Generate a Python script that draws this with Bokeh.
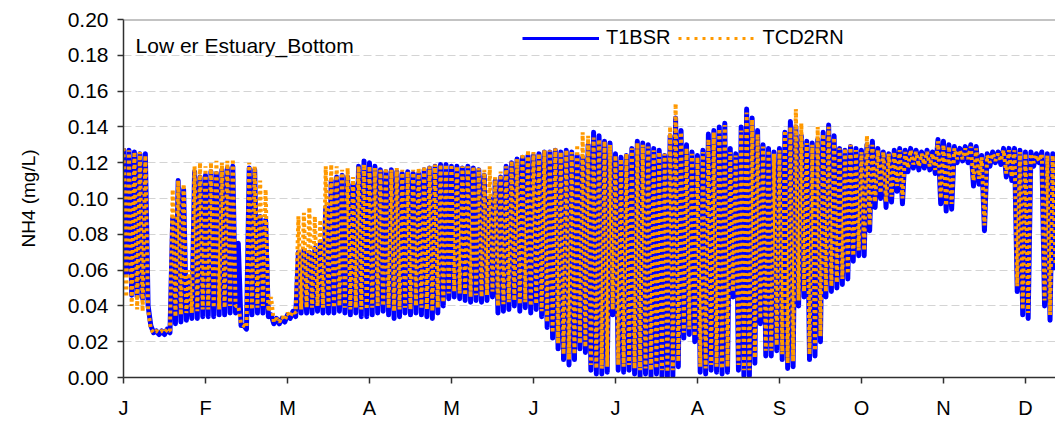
from bokeh.plotting import figure
from bokeh.models import FixedTicker, NumeralTickFormatter, Label, Legend, LegendItem, Range1d, Span
from bokeh.embed import file_html
from bokeh.resources import INLINE

# ---------------- data ----------------
month_labels = ["J", "F", "M", "A", "M", "J", "J", "A", "S", "O", "N", "D"]
month_ticks = [0, 30, 60, 90, 120, 150, 180, 210, 240, 270, 300, 330]
y_ticks = [0.00, 0.02, 0.04, 0.06, 0.08, 0.10, 0.12, 0.14, 0.16, 0.18, 0.20]
step_days = 2   # one tidal high + one tidal low every 2 days

t1bsr_high = [
    .128, .127, .126, .125, .125,
    .029, .026, .026, .027,
    .089, .110, .105,
    .055,
    .115, .112, .113, .115, .114, .116, .117, .118,
    .075, .029,
    .117, .116, .090, .088,
    .035, .033, .033, .035, .037,
    .070, .071, .070, .072, .075,
    .095, .110, .112, .113, .112, .108,
    .118, .121, .120, .118, .116, .115, .116, .115, .114, .115, .114, .114, .116, .117, .118, .119,
    .119, .118, .118, .117, .118, .117, .116, .113, .100,
    .110, .112, .118, .120, .122, .123, .124, .124, .125,
    .126, .126, .127, .126, .127, .126, .124, .123,
    .130, .137, .135, .132, .131, .125, .123, .124, .128, .132, .131, .130, .128, .127, .124,
    .135, .145, .138, .130, .126, .124, .127,
    .136, .138, .140, .142, .128, .125,
    .140, .150, .145, .138, .130, .128, .126, .128,
    .137, .143, .140, .135, .132, .131, .133,
    .137, .141, .135, .128, .127, .129, .128, .127,
    .130, .132, .128, .126, .125, .127, .128,
    .127, .128, .127, .126, .127, .126,
    .133, .132, .130, .129, .128, .129, .130, .129, .124,
    .125, .126, .126, .128, .128, .128, .127, .126, .126, .125, .126, .125, .125,
]
t1bsr_low = [
    .058, .046, .045, .044, .040,
    .025, .024, .024, .025,
    .030, .031, .032,
    .033,
    .033, .034, .034, .034, .035, .035, .036, .036,
    .029, .027,
    .035, .036, .036, .034,
    .030, .030, .031, .033, .034,
    .036, .036, .036, .037, .036,
    .036, .036, .037, .036, .035, .036,
    .034, .034, .035, .036, .037, .035, .033, .034, .036, .035, .036, .035, .034, .033, .036, .040,
    .044, .045, .044, .043, .042, .043, .042, .043, .045,
    .036, .037, .038, .040, .037, .039, .036, .038, .034,
    .028, .022, .016, .010, .007, .010, .016, .014,
    .004, .002, .002, .003, .035, .004, .003, .004, .002, .001, .002, .001, .002, .001, .000,
    .001, .006, .022, .024, .020, .003, .002,
    .004, .003, .002, .003, .045, .004,
    .001, .001, .008, .030, .012, .012, .015, .010,
    .005, .006, .040, .045, .010, .012, .020,
    .045, .048, .050, .052, .055, .065, .068, .068,
    .082, .095, .100, .095, .098, .104, .097,
    .115, .117, .116, .117, .116, .114,
    .097, .093, .094, .120, .121, .120, .107, .108, .082,
    .118, .120, .119, .112, .110, .048, .035, .033, .118, .120, .040, .032, .060,
]
tcd2rn_high = [
    .128, .127, .126, .126, .124,
    .027, .026, .026, .027,
    .105, .110, .108,
    .060,
    .118, .120, .118, .120, .121, .120, .121, .122,
    .040, .029,
    .120, .118, .110, .105,
    .045, .033, .034, .036, .037,
    .090, .092, .095, .090, .088,
    .118, .119, .118, .116, .117, .112,
    .118, .119, .118, .117, .116, .117, .116, .117, .116, .115, .116, .117, .118, .118, .119, .119,
    .119, .119, .118, .118, .118, .118, .117, .116, .118,
    .112, .115, .118, .121, .122, .125, .127, .126, .125,
    .127, .127, .128, .126, .127, .126, .130, .137,
    .135, .134, .133, .132, .130, .124, .122, .125, .128, .131, .130, .129, .127, .126, .125,
    .140, .153, .137, .128, .125, .123, .126,
    .133, .137, .139, .141, .126, .124,
    .138, .148, .144, .136, .129, .127, .125, .127,
    .138, .140, .150, .142, .131, .130, .140,
    .136, .140, .134, .128, .128, .130, .127, .126,
    .135, .130, .127, .126, .125, .126, .127,
    .126, .127, .126, .125, .126, .125,
    .132, .130, .129, .128, .127, .128, .129, .128, .123,
    .124, .125, .125, .127, .127, .127, .126, .125, .125, .124, .125, .124, .124,
]
tcd2rn_low = [
    .045, .040, .038, .037, .038,
    .025, .025, .025, .026,
    .034, .035, .036,
    .036,
    .037, .038, .038, .039, .038, .039, .040, .040,
    .030, .028,
    .038, .039, .040, .037,
    .031, .031, .032, .034, .036,
    .038, .039, .039, .040, .039,
    .040, .039, .040, .039, .038, .039,
    .038, .038, .039, .040, .040, .039, .037, .038, .039, .038, .040, .039, .038, .037, .039, .042,
    .047, .048, .047, .046, .045, .046, .045, .046, .048,
    .040, .041, .042, .043, .041, .042, .040, .041, .037,
    .031, .025, .019, .013, .010, .013, .019, .017,
    .007, .005, .005, .006, .038, .007, .006, .007, .005, .004, .005, .004, .005, .004, .003,
    .004, .009, .025, .027, .023, .006, .005,
    .007, .006, .005, .006, .048, .007,
    .004, .004, .011, .033, .015, .015, .018, .013,
    .008, .009, .043, .048, .013, .015, .023,
    .048, .051, .053, .055, .058, .068, .071, .071,
    .085, .098, .103, .098, .101, .107, .100,
    .117, .119, .118, .119, .118, .116,
    .100, .096, .097, .122, .122, .122, .110, .111, .085,
    .120, .121, .121, .114, .112, .051, .038, .036, .120, .121, .043, .035, .063,
]
for arr in (t1bsr_high, t1bsr_low, tcd2rn_high, tcd2rn_low):
    assert len(arr) == 171, len(arr)


def tidal_trace(high, low):
    xs, ys = [], []
    for k, (h, l) in enumerate(zip(high, low)):
        xs += [k * step_days, k * step_days + 1]
        ys += [h, l]
    return xs, ys


FONT = "Liberation Sans"
BLUE = "#0000ff"
ORANGE = "#ff9900"

p = figure(width=1055, height=421, x_range=Range1d(0, 341), y_range=Range1d(0, 0.2),
           output_backend="svg", toolbar_location=None,
           min_border_left=123, min_border_right=0, min_border_top=19, min_border_bottom=44)

bx, by = tidal_trace(t1bsr_high, t1bsr_low)
ox, oy = tidal_trace(tcd2rn_high, tcd2rn_low)
p.line(bx, by, line_color=BLUE, line_width=5, line_join="round")
p.line(ox, oy, line_color=ORANGE, line_width=4, line_dash="3 3")

# legend proxies (one invisible NaN point each, styled like the legend samples)
lg1 = p.line([0], [float("nan")], line_color=BLUE, line_width=3)
lg2 = p.line([0], [float("nan")], line_color=ORANGE, line_width=3, line_dash="3 5")

# axes
p.xaxis.ticker = FixedTicker(ticks=month_ticks)
p.xaxis.major_label_overrides = {t: lab for t, lab in zip(month_ticks, month_labels)}
p.yaxis.ticker = FixedTicker(ticks=y_ticks)
p.yaxis.formatter = NumeralTickFormatter(format="0.00")
for ax in (p.xaxis[0], p.yaxis[0]):
    ax.axis_line_color = "#303030"
    ax.axis_line_width = 1.5
    ax.major_tick_line_color = "#303030"
    ax.major_tick_line_width = 1.5
    ax.major_tick_out = 6
    ax.major_tick_in = 0
    ax.minor_tick_line_color = None
    ax.major_label_text_font = FONT
    ax.major_label_text_color = "#000000"
p.xaxis.major_label_text_font_size = "20px"
p.yaxis.major_label_text_font_size = "21px"
p.xaxis.major_label_standoff = 13
p.yaxis.major_label_standoff = 9
p.yaxis.axis_label = "NH4 (mg/L)"
p.yaxis.axis_label_text_font = FONT
p.yaxis.axis_label_text_font_size = "19px"
p.yaxis.axis_label_text_font_style = "normal"
p.yaxis.axis_label_text_color = "#000000"
p.yaxis.axis_label_standoff = 26

p.xgrid.visible = False
p.ygrid.ticker = FixedTicker(ticks=y_ticks)
p.ygrid.grid_line_color = "#d4d4d4"
p.ygrid.grid_line_dash = "8 4"
p.ygrid.grid_line_width = 1

p.outline_line_color = None
p.add_layout(Span(location=0.2, dimension="width", line_color="#888888", line_width=2))
p.background_fill_color = "white"
p.border_fill_color = "white"

p.add_layout(Label(x=4.4, y=0.1855, text="Low er Estuary_Bottom", text_font=FONT,
                   text_font_size="21px", text_baseline="alphabetic", text_color="#000000"))

legend = Legend(items=[LegendItem(label="T1BSR", renderers=[lg1]),
                       LegendItem(label="TCD2RN", renderers=[lg2])],
                orientation="horizontal", location=(399, 328),
                glyph_width=77, glyph_height=20, label_height=20,
                label_standoff=7, spacing=8, padding=0, margin=0,
                label_text_font=FONT, label_text_font_size="20px", label_text_color="#000000",
                border_line_alpha=0, background_fill_alpha=0)
p.add_layout(legend, "center")

open("out.html", "w").write(file_html(p, INLINE))
